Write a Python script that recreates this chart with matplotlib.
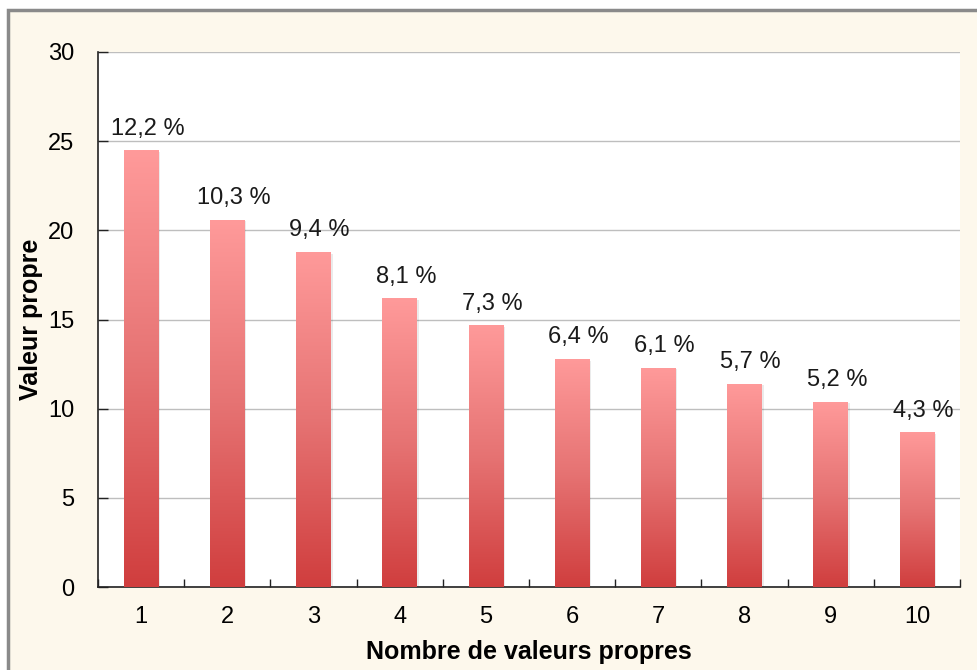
import matplotlib
matplotlib.use("Agg")
import matplotlib.pyplot as plt
import numpy as np
from matplotlib.colors import LinearSegmentedColormap
from matplotlib.patches import Rectangle

plt.rcParams['font.family'] = ['Liberation Sans', 'DejaVu Sans']

categories = ['1', '2', '3', '4', '5', '6', '7', '8', '9', '10']
values = [24.5, 20.6, 18.8, 16.2, 14.7, 12.8, 12.3, 11.4, 10.4, 8.7]
pct_labels = ['12,2 %', '10,3 %', '9,4 %', '8,1 %', '7,3 %', '6,4 %', '6,1 %', '5,7 %', '5,2 %', '4,3 %']
yticks = [0, 5, 10, 15, 20, 25, 30]

W, H = 978, 670
fig = plt.figure(figsize=(W / 100, H / 100), dpi=100)
bg = '#FDF8EC'
fig.patch.set_facecolor('white')
# outer panel
fig.patches.append(Rectangle((8 / W, -0.05), 1.0, 1 - 10 / H + 0.05, transform=fig.transFigure,
                             facecolor=bg, edgecolor='#8A8A8A', linewidth=2.5, zorder=-10))

ax = fig.add_axes([98 / W, 1 - 587 / H, (960 - 98) / W, (587 - 52) / H])
ax.set_zorder(5)
ax.set_facecolor('white')
ax.set_xlim(0.5, 10.5)
ax.set_ylim(0, 30)

x = np.arange(1, len(values) + 1)
cmap = LinearSegmentedColormap.from_list('g', ['#D03E3E', '#E67373', '#FF9A9A'])
grad = np.linspace(0, 1, 256).reshape(-1, 1)
bars = ax.bar(x, values, width=0.4, color='none', edgecolor='none', zorder=3)
for b in bars:
    x0, w, h = b.get_x(), b.get_width(), b.get_height()
    # soft shadow
    sh = Rectangle((x0 + 0.012, 0), w + 0.01, h - 0.1, facecolor='#000000', alpha=0.08,
                   edgecolor='none', zorder=2)
    ax.add_patch(sh)
    im = ax.imshow(grad, extent=[x0, x0 + w, 0, h], origin='lower', cmap=cmap,
                   aspect='auto', zorder=3)
    im.set_clip_path(b)

for xi, v, lab in zip(x, values, pct_labels):
    ax.annotate(lab, (xi, v), xytext=(4.5, 11), textcoords='offset points',
                ha='center', va='baseline', fontsize=17, color='#1a1a1a', zorder=5)

ax.set_xticks(x)
ax.set_xticklabels(categories, fontsize=17)
ax.set_xticks(np.arange(0.5, 11, 1), minor=True)
ax.tick_params(axis='x', which='major', length=0, pad=14)
ax.tick_params(axis='x', which='minor', direction='in', length=6, width=1, color='#222222')
ax.set_yticks(yticks)
ax.set_yticklabels([str(t) for t in yticks], fontsize=17)
ax.tick_params(axis='y', direction='in', length=7, width=1, color='#222222', pad=17)

ax.grid(axis='y', color='#BEBEBE', linewidth=1, zorder=0)
ax.set_axisbelow(True)
for s in ['top', 'right']:
    ax.spines[s].set_visible(False)
for s in ['left', 'bottom']:
    ax.spines[s].set_color('#222222')
    ax.spines[s].set_linewidth(1.2)

ax.set_ylabel('Valeur propre', fontsize=18, fontweight='bold')
ax.set_xlabel('Nombre de valeurs propres', fontsize=18, fontweight='bold')
ax.yaxis.set_label_coords(-(98 - 31) / (960 - 98), 0.5)
ax.xaxis.set_label_coords(0.5, -(652 - 587) / (587 - 52))
ax.xaxis.label.set_va('center')
ax.yaxis.label.set_va('center')

fig.savefig('out.png', dpi=100, facecolor=fig.get_facecolor())
